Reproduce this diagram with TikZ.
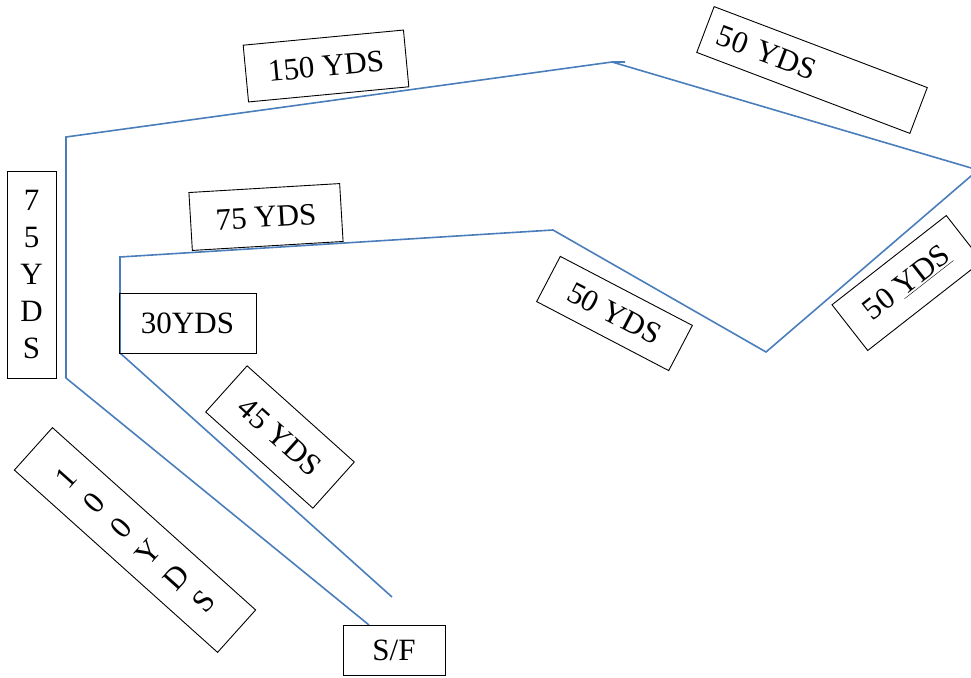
\documentclass[tikz,border=0pt]{standalone}
\usepackage{fontspec}
\setmainfont{Liberation Serif}

\definecolor{courseblue}{HTML}{4A7EBB}

\tikzset{
	yds/.style={draw, line width=0.9pt, inner sep=0pt, align=center,
		font=\fontsize{31}{37}\selectfont},
	course/.style={color=courseblue, line width=1.6pt}
}

\begin{document}
\begin{tikzpicture}[x=1pt, y=-1pt]
\useasboundingbox (0,0) rectangle (971,677);
\clip (0,0) rectangle (971,677);

\pgfmathsetmacro{\crsOutX}{66}
\pgfmathsetmacro{\crsInX}{120}
\pgfmathsetmacro{\crsTopY}{62}

% course corners
\coordinate (start) at (369,625);
\coordinate (outLo) at (\crsOutX,378);
\coordinate (outHi) at (\crsOutX,137);
\coordinate (peak) at (612,\crsTopY);
\coordinate (tick) at (625,\crsTopY);
\coordinate (east) at (978,170);
\coordinate (dip) at (766,352);
\coordinate (bend) at (553,230);
\coordinate (inHi) at (\crsInX,257);
\coordinate (inLo) at (\crsInX,353);
\coordinate (finish) at (392,597);

\draw[course] (start) -- (outLo) -- (outHi) -- (peak) -- (tick);
\draw[course] (peak) -- (east) -- (dip) -- (bend) -- (inHi) -- (inLo) -- (finish);

% distance labels
\node[yds, minimum width=161, minimum height=57, rotate=5.4] (lblA) at (326,66) {150 YDS};
\node[yds, minimum width=228, minimum height=49, rotate=-20.8, align=left, text width=200] (lblB) at (812,70) {50 YDS};
\node[yds, minimum width=151, minimum height=58, rotate=3.4] (lblC) at (266,217) {75 YDS};
\node[yds, minimum width=49, minimum height=207] (lblD) at (31.5,274.5) {7\\5\\Y\\D\\S};
\node[yds, minimum width=137, minimum height=60] (lblE) at (187.5,323) {30YDS};
\node[yds, minimum width=144, minimum height=62, rotate=-41.9] (lblF) at (280,437) {45 YDS};
\node[yds, minimum width=57, minimum height=273, rotate=48.1] (lblG) at (135,540) {1\\0\\0\\Y\\D\\S};
\node[yds, minimum width=149, minimum height=51, rotate=-27.6] (lblH) at (614.5,313.5) {50 YDS};
\node[yds, minimum width=145, minimum height=58, rotate=38] (lblI) at (907,283) {50 \underline{YDS}};
\node[yds, minimum width=102, minimum height=50] (sf) at (394,650) {S/F};
\end{tikzpicture}
\end{document}
